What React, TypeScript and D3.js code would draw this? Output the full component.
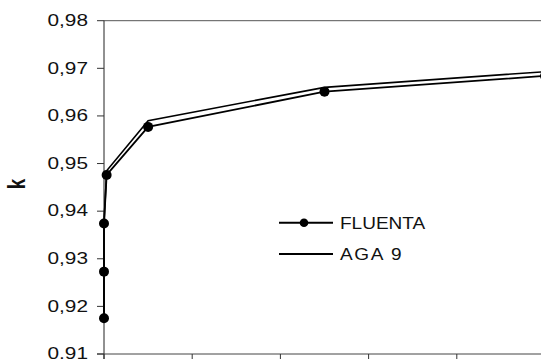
import React from "react";
import * as d3 from "d3";

const xValues = [0, 0, 0, 0.03, 0.5, 2.5, 5];
const fluentaValues = [0.9175, 0.9273, 0.9374, 0.9476, 0.9577, 0.9651, 0.9684];
const aga9Values = [0.9175, 0.9273, 0.9374, 0.9485, 0.959, 0.966, 0.9693];
const yTicks = [0.91, 0.92, 0.93, 0.94, 0.95, 0.96, 0.97, 0.98];
const xTicks = [0, 1, 2, 3, 4, 5];
const seriesNames = ["FLUENTA", "AGA 9"];

const W = 541;
const H = 359;
const left = 104;
const top = 20.7;
const bottom = 354;

export default function App() {
  const x = d3.scaleLinear().domain([0, 5]).range([left, 545]);
  const y = d3.scaleLinear().domain([0.91, 0.98]).range([bottom, top]);
  const line = d3
    .line<[number, number]>()
    .x((d) => x(d[0]))
    .y((d) => y(d[1]));
  const fl: [number, number][] = xValues.map((v, i) => [v, fluentaValues[i]]);
  const ag: [number, number][] = xValues.map((v, i) => [v, aga9Values[i]]);
  const fmt = (v: number) => v.toFixed(2).replace(".", ",");
  const font = "'Liberation Sans', Arial, sans-serif";

  return (
    <div style={{ position: "absolute", left: 0, top: 0 }}>
      <svg width={W} height={H} style={{ display: "block", background: "#fff" }}>
        {/* frame */}
        <line x1={left} x2={W} y1={top} y2={top} stroke="#555" strokeWidth={1} />
        <line x1={left} x2={left} y1={top} y2={H} stroke="#222" strokeWidth={1} />
        <line x1={97} x2={W} y1={bottom} y2={bottom} stroke="#444" strokeWidth={1} />
        {yTicks.map((t) => (
          <g key={t}>
            <line x1={97} x2={left} y1={y(t)} y2={y(t)} stroke="#333" strokeWidth={1} />
            <text
              transform={`translate(88,${y(t) + 5.3}) scale(1.3,1)`}
              textAnchor="end"
              fontFamily={font}
              fontSize={16}
              fill="#111"
            >
              {fmt(t)}
            </text>
          </g>
        ))}
        {xTicks.map((t) => (
          <line key={t} x1={x(t)} x2={x(t)} y1={bottom} y2={H} stroke="#333" strokeWidth={1} />
        ))}
        <text
          transform="translate(25,184) scale(1.25,1) rotate(-90)"
          textAnchor="middle"
          fontFamily={font}
          fontWeight="bold"
          fontSize={19}
          fill="#111"
        >
          k
        </text>
        {/* series */}
        <path d={line(ag) || ""} fill="none" stroke="#000" strokeWidth={1.6} />
        <path d={line(fl) || ""} fill="none" stroke="#000" strokeWidth={1.8} />
        {fl.map((d, i) => (
          <circle key={i} cx={x(d[0])} cy={y(d[1])} r={5} fill="#000" />
        ))}
        {/* legend */}
        <line x1={279} x2={333} y1={222.7} y2={222.7} stroke="#000" strokeWidth={2} />
        <circle cx={304} cy={222.7} r={4.3} fill="#000" />
        <text
          transform="translate(340,228.5) scale(1.12,1)"
          fontFamily={font}
          fontSize={17}
          fill="#111"
        >
          {seriesNames[0]}
        </text>
        <line x1={279} x2={333} y1={254} y2={254} stroke="#000" strokeWidth={2} />
        <text
          transform="translate(340,260) scale(1.12,1)"
          fontFamily={font}
          fontSize={17}
          letterSpacing={1.5}
          fill="#111"
        >
          {seriesNames[1]}
        </text>
      </svg>
    </div>
  );
}
